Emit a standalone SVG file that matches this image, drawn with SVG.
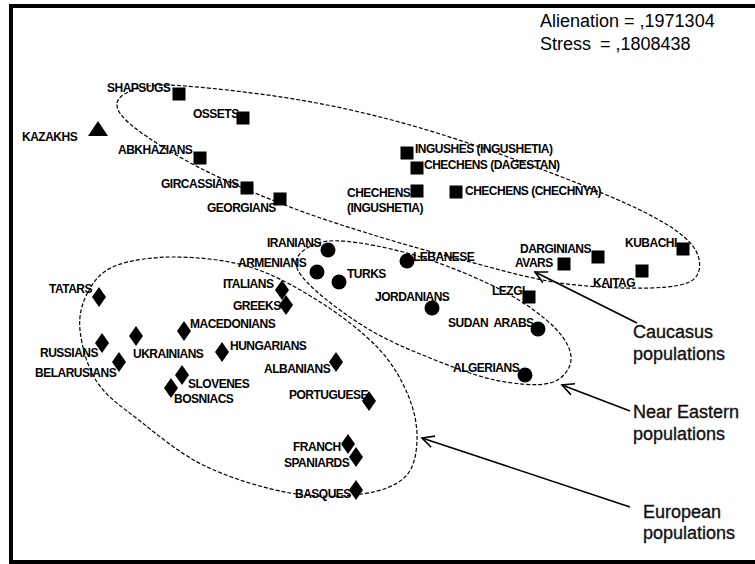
<svg xmlns="http://www.w3.org/2000/svg" xmlns:xlink="http://www.w3.org/1999/xlink" width="755" height="564" viewBox="0 0 755 564">
<style>
.lbl{font-family:"Liberation Sans",Arial,sans-serif;font-weight:bold;font-size:12px;letter-spacing:-0.5px;fill:#000}
.big{font-family:"Liberation Sans",Arial,sans-serif;font-size:18px;fill:#000}
.cap{font-family:"Liberation Sans",Arial,sans-serif;font-size:18px;fill:#111;stroke:#111;stroke-width:0.35}
.loop{fill:none;stroke:#000;stroke-width:1.2;stroke-dasharray:4 2}
.arr{fill:none;stroke:#000;stroke-width:1.6}
</style>
<defs>
<rect id="sq" x="-6.5" y="-6.5" width="13" height="13" fill="#000"/>
<circle id="ci" r="7.5" fill="#000"/>
<path id="di" d="M0,-10 L7,0 L0,10 L-7,0Z" fill="#000"/>
<marker id="ah" markerUnits="userSpaceOnUse" markerWidth="14" markerHeight="14" refX="12" refY="6" orient="auto" viewBox="0 0 14 12">
<path d="M0,0 L12,6 L0,12" fill="none" stroke="#000" stroke-width="1.6"/>
</marker>
</defs>
<rect x="0" y="0" width="755" height="564" fill="#fff"/>
<rect x="11" y="6" width="800" height="556" fill="#fff" stroke="#000" stroke-width="4"/>

<g id="stats">
<text class="big" x="540" y="27">Alienation = ,1971304</text>
<text class="big" x="540" y="50">Stress</text>
<text class="big" x="600" y="50">= ,1808438</text>
</g>

<g id="clusters">
<path id="caucasus-loop" class="loop" d="M117,103 C117.8,96.3 128.7,90.8 140,88 C151.3,85.2 158.3,84 185,86 C211.7,88 262.5,93.5 300,100 C337.5,106.5 371.7,114.2 410,125 C448.3,135.8 491.7,150.8 530,165 C568.3,179.2 613,196.7 640,210 C667,223.3 682.8,233.7 692,245 C701.2,256.3 702,270.8 695,278 C688,285.2 672.5,287.2 650,288 C627.5,288.8 590,287.3 560,283 C530,278.7 500,269.7 470,262 C440,254.3 410,246.2 380,237 C350,227.8 320,218.5 290,207 C260,195.5 225.8,181.2 200,168 C174.2,154.8 148.8,138.8 135,128 C121.2,117.2 116.2,109.7 117,103Z"/>
<path id="neareast-loop" class="loop" d="M296,262 C296.5,254.2 307.3,246.2 318,243 C328.7,239.8 341.3,240.2 360,243 C378.7,245.8 405.8,251.8 430,260 C454.2,268.2 484.2,280.7 505,292 C525.8,303.3 544,316.7 555,328 C566,339.3 571.8,350.8 571,360 C570.2,369.2 562.7,379.7 550,383 C537.3,386.3 515,384.2 495,380 C475,375.8 450.8,366.3 430,358 C409.2,349.7 389.2,341.3 370,330 C350.8,318.7 327.3,301.3 315,290 C302.7,278.7 295.5,269.8 296,262Z"/>
<path id="european-loop" class="loop" d="M88,292 C93.8,281.3 100.5,271.8 115,266 C129.5,260.2 152.5,256.8 175,257 C197.5,257.2 225.8,259.5 250,267 C274.2,274.5 298.7,288.5 320,302 C341.3,315.5 363.3,332.5 378,348 C392.7,363.5 401.5,379.7 408,395 C414.5,410.3 417.5,426.3 417,440 C416.5,453.7 414.2,468 405,477 C395.8,486 381.2,491.3 362,494 C342.8,496.7 316.2,497.7 290,493 C263.8,488.3 230,478 205,466 C180,454 158,435 140,421 C122,407 107,397.2 97,382 C87,366.8 81.5,345 80,330 C78.5,315 82.2,302.7 88,292Z"/>
</g>

<g id="connectors">
<line class="arr" x1="637" y1="323" x2="535" y2="272" marker-end="url(#ah)"/>
<line class="arr" x1="630" y1="411" x2="562" y2="385" marker-end="url(#ah)"/>
<line class="arr" x1="630" y1="507" x2="422" y2="438" marker-end="url(#ah)"/>
</g>

<g id="group-labels">
<text class="cap" x="633" y="338">Caucasus</text>
<text class="cap" x="633" y="360">populations</text>
<text class="cap" x="633" y="418">Near Eastern</text>
<text class="cap" x="633" y="440">populations</text>
<text class="cap" x="643" y="518">European</text>
<text class="cap" x="643" y="539">populations</text>
</g>

<g id="kazakhs"><path d="M98,121 L108,136 L88,136Z" fill="#000"/><text class="lbl" x="22" y="141">KAZAKHS</text></g>

<g id="shapsugs"><use xlink:href="#sq" x="179" y="94"/><text class="lbl" x="107" y="92">SHAPSUGS</text></g>
<g id="ossets"><use xlink:href="#sq" x="243" y="118"/><text class="lbl" x="193" y="118">OSSETS</text></g>
<g id="abkhazians"><use xlink:href="#sq" x="200" y="158"/><text class="lbl" x="118" y="154">ABKHAZIANS</text></g>
<g id="gircassians"><use xlink:href="#sq" x="247" y="188"/><text class="lbl" x="161" y="188">GIRCASSIANS</text></g>
<g id="georgians"><use xlink:href="#sq" x="280" y="199"/><text class="lbl" x="207" y="212">GEORGIANS</text></g>
<g id="ingushes"><use xlink:href="#sq" x="407" y="153"/><text class="lbl" x="415" y="153">INGUSHES (INGUSHETIA)</text></g>
<g id="chechens-dagestan"><use xlink:href="#sq" x="417" y="168"/><text class="lbl" x="424" y="169">CHECHENS (DAGESTAN)</text></g>
<g id="chechens-ingushetia"><use xlink:href="#sq" x="417" y="191"/><text class="lbl" x="347" y="197">CHECHENS</text><text class="lbl" x="347" y="212">(INGUSHETIA)</text></g>
<g id="chechens-chechnya"><use xlink:href="#sq" x="456" y="192"/><text class="lbl" x="465" y="195">CHECHENS (CHECHNYA)</text></g>
<g id="darginians"><use xlink:href="#sq" x="598" y="257"/><text class="lbl" x="520" y="253">DARGINIANS</text></g>
<g id="avars"><use xlink:href="#sq" x="564" y="264"/><text class="lbl" x="515" y="267">AVARS</text></g>
<g id="kubachi"><use xlink:href="#sq" x="683" y="249"/><text class="lbl" x="625" y="247">KUBACHI</text></g>
<g id="kaitag"><use xlink:href="#sq" x="642" y="271"/><text class="lbl" x="593" y="287">KAITAG</text></g>
<g id="lezgi"><use xlink:href="#sq" x="529" y="297"/><text class="lbl" x="492" y="295">LEZGI</text></g>

<g id="iranians"><use xlink:href="#ci" x="328" y="250"/><text class="lbl" x="267" y="247">IRANIANS</text></g>
<g id="armenians"><use xlink:href="#ci" x="317" y="272"/><text class="lbl" x="238" y="267">ARMENIANS</text></g>
<g id="turks"><use xlink:href="#ci" x="339" y="282"/><text class="lbl" x="347" y="278">TURKS</text></g>
<g id="lebanese"><use xlink:href="#ci" x="407" y="261"/><text class="lbl" x="413" y="261">LEBANESE</text></g>
<g id="jordanians"><use xlink:href="#ci" x="432" y="308"/><text class="lbl" x="375" y="301">JORDANIANS</text></g>
<g id="sudan-arabs"><use xlink:href="#ci" x="538" y="329"/><text class="lbl" x="448" y="327" xml:space="preserve">SUDAN  ARABS</text></g>
<g id="algerians"><use xlink:href="#ci" x="525" y="375"/><text class="lbl" x="453" y="372">ALGERIANS</text></g>

<g id="tatars"><use xlink:href="#di" x="99" y="297"/><text class="lbl" x="49" y="293">TATARS</text></g>
<g id="italians"><use xlink:href="#di" x="282" y="290"/><text class="lbl" x="223" y="288">ITALIANS</text></g>
<g id="greeks"><use xlink:href="#di" x="286" y="305"/><text class="lbl" x="233" y="310">GREEKS</text></g>
<g id="macedonians"><use xlink:href="#di" x="184" y="331"/><text class="lbl" x="190" y="328">MACEDONIANS</text></g>
<g id="ukrainians"><use xlink:href="#di" x="136" y="336"/><text class="lbl" x="133" y="358">UKRAINIANS</text></g>
<g id="russians"><use xlink:href="#di" x="102" y="343"/><text class="lbl" x="40" y="357">RUSSIANS</text></g>
<g id="belarusians"><use xlink:href="#di" x="119" y="362"/><text class="lbl" x="35" y="377">BELARUSIANS</text></g>
<g id="hungarians"><use xlink:href="#di" x="222" y="352"/><text class="lbl" x="230" y="350">HUNGARIANS</text></g>
<g id="albanians"><use xlink:href="#di" x="336" y="362"/><text class="lbl" x="264" y="373">ALBANIANS</text></g>
<g id="slovenes"><use xlink:href="#di" x="182" y="375"/><text class="lbl" x="188" y="388">SLOVENES</text></g>
<g id="bosniacs"><use xlink:href="#di" x="171" y="388"/><text class="lbl" x="174" y="403">BOSNIACS</text></g>
<g id="portuguese"><use xlink:href="#di" x="369" y="401"/><text class="lbl" x="289" y="399">PORTUGUESE</text></g>
<g id="franch"><use xlink:href="#di" x="348" y="444"/><text class="lbl" x="293" y="451">FRANCH</text></g>
<g id="spaniards"><use xlink:href="#di" x="356" y="457"/><text class="lbl" x="284" y="467">SPANIARDS</text></g>
<g id="basques"><use xlink:href="#di" x="356" y="490"/><text class="lbl" x="295" y="498">BASQUES</text></g>
</svg>
